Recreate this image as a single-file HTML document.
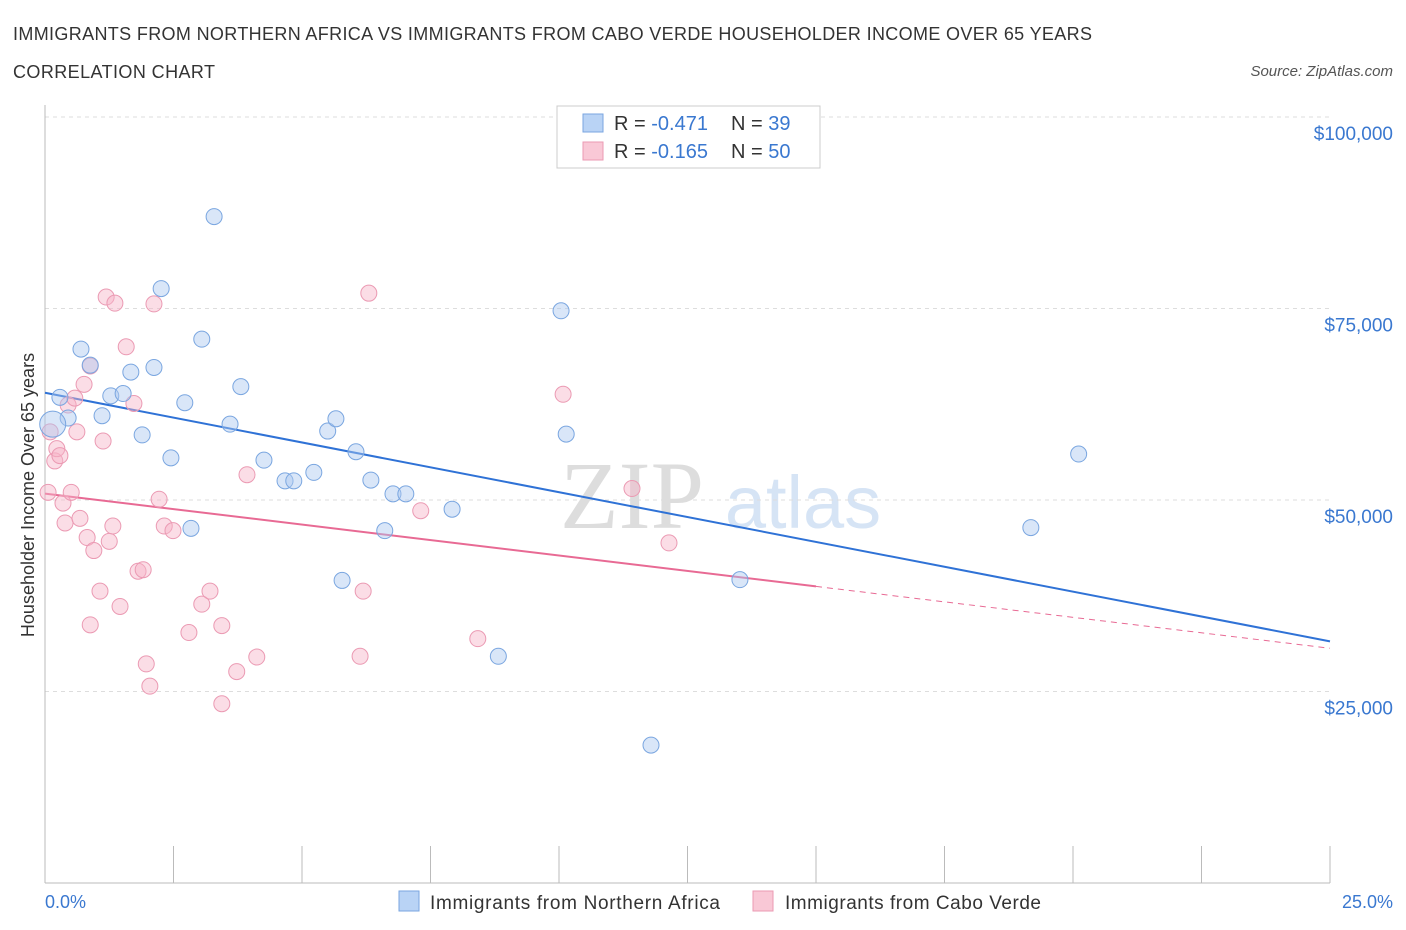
<!DOCTYPE html>
<html><head><meta charset="utf-8"><style>
body{margin:0;background:#fff;font-family:"Liberation Sans",sans-serif}
svg{display:block}
</style></head><body>
<svg id="chart" width="1406" height="930">
<text x="13" y="40" font-size="18" fill="#333" textLength="1079">IMMIGRANTS FROM NORTHERN AFRICA VS IMMIGRANTS FROM CABO VERDE HOUSEHOLDER INCOME OVER 65 YEARS</text>
<text x="13" y="78" font-size="18" fill="#333" textLength="202">CORRELATION CHART</text>
<text x="1393" y="76" font-size="15" fill="#555" font-style="italic" text-anchor="end">Source: ZipAtlas.com</text>
<text x="632" y="528" font-size="96" fill="#ddd" font-family="Liberation Serif,serif" text-anchor="middle">ZIP</text>
<text x="803" y="528" font-size="74" fill="#d6e4f5" text-anchor="middle">atlas</text>
<g id="grid"></g><g id="axes"></g><g id="lines"></g><g id="pts"></g>
<text x="34" y="495" font-size="18" fill="#333" text-anchor="middle" transform="rotate(-90 34 495)">Householder Income Over 65 years</text>
<text x="45" y="908" font-size="18" fill="#3a78d0">0.0%</text>
<text x="1393" y="908" font-size="18" fill="#3a78d0" text-anchor="end">25.0%</text>
<g>
<rect x="557" y="106" width="263" height="62" fill="#fff" stroke="#ccc"/>
<rect x="583" y="114" width="20" height="18" fill="#b9d3f5" stroke="#7aa6e0"/>
<rect x="583" y="142" width="20" height="18" fill="#f9c8d6" stroke="#eb9ab3"/>
<text x="614" y="130" font-size="20" fill="#333">R = <tspan fill="#3a78d0">-0.471</tspan></text>
<text x="731" y="130" font-size="20" fill="#333">N = <tspan fill="#3a78d0">39</tspan></text>
<text x="614" y="158" font-size="20" fill="#333">R = <tspan fill="#3a78d0">-0.165</tspan></text>
<text x="731" y="158" font-size="20" fill="#333">N = <tspan fill="#3a78d0">50</tspan></text>
</g>
<g>
<rect x="399" y="891" width="20" height="20" fill="#b9d3f5" stroke="#7aa6e0"/>
<text x="430" y="909" font-size="19" fill="#333" textLength="290">Immigrants from Northern Africa</text>
<rect x="753" y="891" width="20" height="20" fill="#f9c8d6" stroke="#eb9ab3"/>
<text x="785" y="909" font-size="19" fill="#333" textLength="256">Immigrants from Cabo Verde</text>
</g>
</svg>
<script>
const yTicks=[25000,50000,75000,100000];
const yTickLabels=["$25,000","$50,000","$75,000","$100,000"];
const blueX=[0.29,0.45,0.70,0.88,1.11,1.28,1.52,1.67,1.89,2.12,2.26,2.45,2.72,2.84,3.05,3.29,3.60,3.81,4.26,4.67,4.84,5.23,5.50,5.66,6.05,5.78,6.34,6.61,6.77,7.02,7.92,8.82,10.04,10.14,11.79,13.52,19.18,20.11,0.15];
const blueY=[63400,60700,69700,67600,61000,63600,63900,66700,58500,67300,77600,55500,62700,46300,71000,87000,59900,64800,55200,52500,52500,53600,59000,60600,56300,39500,52600,46000,50800,50800,48800,29600,74700,58600,18000,39600,46400,56000,59900];
const pinkX=[0.10,0.06,0.19,0.23,0.29,0.35,0.39,0.45,0.51,0.58,0.62,0.68,0.76,0.82,0.88,0.88,0.95,1.07,1.13,1.19,1.25,1.32,1.36,1.46,1.58,1.73,1.81,1.91,1.97,2.04,2.12,2.22,2.32,2.49,2.80,3.05,3.21,3.44,3.44,3.73,3.93,4.12,6.13,6.19,6.30,7.31,8.42,10.08,11.42,12.14];
const pinkY=[58900,51000,55100,56700,55800,49600,47000,62400,51000,63300,58900,47600,65100,45100,33700,67500,43400,38100,57700,76500,44600,46600,75700,36100,70000,62600,40700,40900,28600,25700,75600,50100,46600,46000,32700,36400,38100,33600,23400,27600,53300,29500,29600,38100,77000,48600,31900,63800,51500,44400];
const X=v=>45+v/25*1285, Y=v=>883-v/100000*766;
const NS="http://www.w3.org/2000/svg";
function mk(parent,tag,attrs){const e=document.createElementNS(NS,tag);for(const k in attrs)e.setAttribute(k,attrs[k]);document.getElementById(parent).appendChild(e);return e;}
yTicks.forEach((t,i)=>{
 const l=mk('grid','line',{x1:45,x2:1330,y1:Y(t),y2:Y(t),stroke:'#ddd','stroke-dasharray':'4,4'});
 
 
 const tx=mk('grid','text',{x:1393,y:Y(t)+23,'font-size':19,fill:'#3a78d0','text-anchor':'end'});
 tx.textContent=yTickLabels[i];
 
 
});
const ax=mk('axes','line',{x1:45,x2:1330,y1:883,y2:883,stroke:'#bbb'});


const ay=mk('axes','line',{x1:45,x2:45,y1:105,y2:883,stroke:'#bbb'});


for(let i=0;i<=10;i++){const t=mk('axes','line',{x1:X(i*2.5),x2:X(i*2.5),y1:846,y2:883,stroke:'#bbb'});
 
 }
function fit(xs,ys){const n=xs.length,mx=xs.reduce((a,b)=>a+b)/n,my=ys.reduce((a,b)=>a+b)/n;let sxy=0,sxx=0;for(let i=0;i<n;i++){sxy+=(xs[i]-mx)*(ys[i]-my);sxx+=(xs[i]-mx)**2;}const b=sxy/sxx;return [my-b*mx,b];}
const bf=fit(blueX,blueY),pf=fit(pinkX,pinkY);
const bl=mk('lines','line',{x1:X(0),y1:Y(bf[0]),x2:X(25),y2:Y(bf[0]+bf[1]*25),stroke:'#2f72d6','stroke-width':2});


const pl=mk('lines','line',{x1:X(0),y1:Y(pf[0]),x2:X(15),y2:Y(pf[0]+pf[1]*15),stroke:'#e86a94','stroke-width':2});


const pd=mk('lines','line',{x1:X(15),y1:Y(pf[0]+pf[1]*15),x2:X(25),y2:Y(pf[0]+pf[1]*25),stroke:'#e86a94','stroke-width':1,'stroke-dasharray':'6,5'});


pinkX.forEach((x,i)=>{const c=mk('pts','circle',{cx:X(x),cy:Y(pinkY[i]),r:8,fill:'rgba(246,180,200,0.45)',stroke:'#eb9ab3','stroke-width':1});
 
 });
blueX.forEach((x,i)=>{const c=mk('pts','circle',{cx:X(x),cy:Y(blueY[i]),r:i==38?13:8,fill:'rgba(170,200,240,0.45)',stroke:'#7aa6e0','stroke-width':1});
 
 });
</script>
</body></html>
